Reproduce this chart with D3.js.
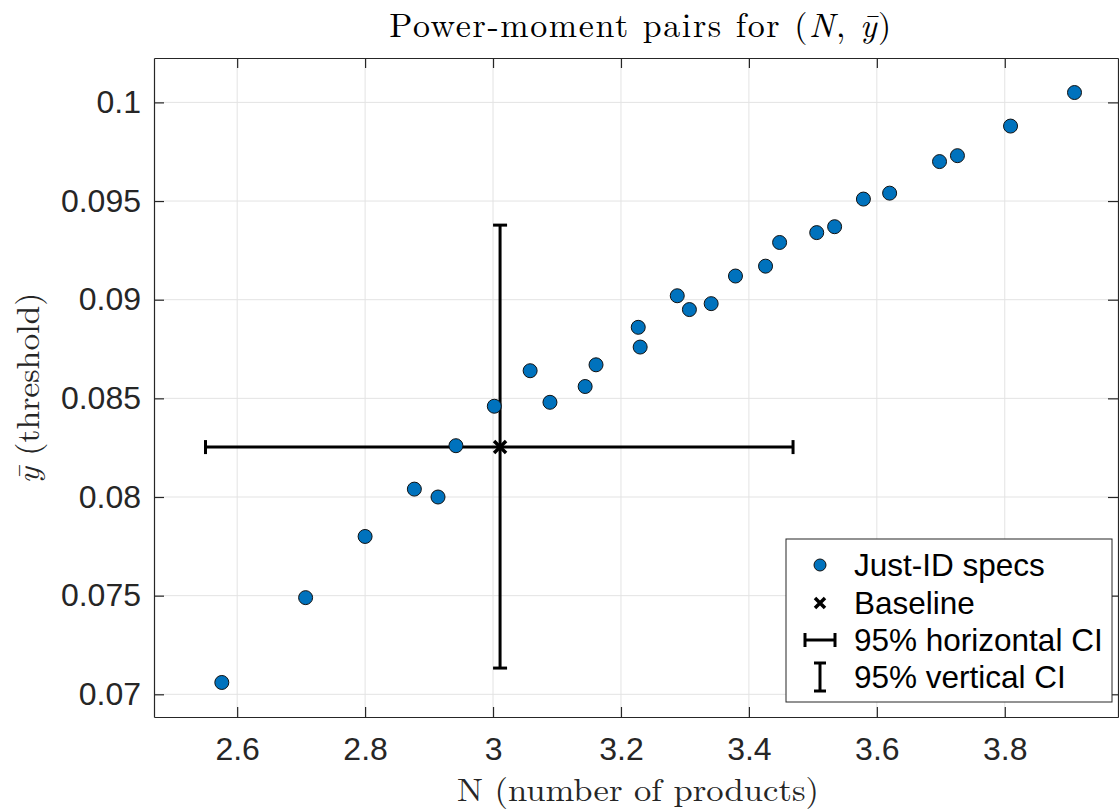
<!DOCTYPE html>
<html>
<head>
<meta charset="utf-8">
<script src="https://cdn.jsdelivr.net/npm/d3@7"></script>
<style>
  body { margin: 0; padding: 0; background: #fff; }
  svg { display: block; }
</style>
</head>
<body>
<div id="chart"></div>
<script>
// just-identified specs: N and ybar
var specN = [2.576, 2.707, 2.800, 2.877, 2.914, 2.942, 3.002, 3.058, 3.089, 3.144, 3.161,
             3.227, 3.230, 3.288, 3.307, 3.341, 3.379, 3.426, 3.448, 3.506, 3.534, 3.579,
             3.620, 3.698, 3.726, 3.809, 3.909];
var specY = [0.0706, 0.0749, 0.0780, 0.0804, 0.0800, 0.0826, 0.0846, 0.0864, 0.0848, 0.0856, 0.0867,
             0.0886, 0.0876, 0.0902, 0.0895, 0.0898, 0.0912, 0.0917, 0.0929, 0.0934, 0.0937, 0.0951,
             0.0954, 0.0970, 0.0973, 0.0988, 0.1005];
var baseline = [3.011, 0.08253];
var ciN = [2.5505, 3.469];
var ciY = [0.07133, 0.09378];
var xTicks = [2.6, 2.8, 3.0, 3.2, 3.4, 3.6, 3.8];
var yTicks = [0.07, 0.075, 0.08, 0.085, 0.09, 0.095, 0.1];
var legendLabels = ["Just-ID specs", "Baseline", "95% horizontal CI", "95% vertical CI"];

var W = 1119, H = 809;
var m = {left: 154, right: 1, top: 58, bottom: 92};
var pw = W - m.left - m.right, ph = H - m.top - m.bottom;

var svg = d3.select("#chart").append("svg").attr("width", W).attr("height", H);

var x = d3.scaleLinear().domain([2.470, 3.977]).range([0, pw]);
var y = d3.scaleLinear().domain([0.06885, 0.10225]).range([ph, 0]);

var g = svg.append("g").attr("transform", "translate(" + m.left + "," + m.top + ")");

// grid
g.selectAll(".gx").data(xTicks).enter().append("line")
  .attr("x1", d => x(d)).attr("x2", d => x(d)).attr("y1", 0).attr("y2", ph)
  .attr("stroke", "#e3e3e3").attr("stroke-width", 1);
g.selectAll(".gy").data(yTicks).enter().append("line")
  .attr("y1", d => y(d)).attr("y2", d => y(d)).attr("x1", 0).attr("x2", pw)
  .attr("stroke", "#e3e3e3").attr("stroke-width", 1);

// axes (inward ticks, box)
var fmtY = function(d) { return d3.format("")(+d.toFixed(3)); };
var fmtX = function(d) { return d === 3 ? "3" : d.toFixed(1); };
var axStyle = function(sel) {
  sel.select(".domain").attr("stroke", "#262626").attr("stroke-width", 1.2);
  sel.selectAll(".tick line").attr("stroke", "#262626").attr("stroke-width", 1.2);
  sel.selectAll("text").attr("fill", "#262626").style("font-family", "'Liberation Sans', Arial, sans-serif").style("font-size", "32px");
};
g.append("g").attr("transform", "translate(0," + ph + ")")
  .call(d3.axisBottom(x).tickValues(xTicks).tickFormat(fmtX).tickSizeInner(-10).tickSizeOuter(0).tickPadding(20))
  .call(axStyle);
g.append("g")
  .call(d3.axisLeft(y).tickValues(yTicks).tickFormat(fmtY).tickSizeInner(-10).tickSizeOuter(0).tickPadding(13))
  .call(axStyle);
g.append("g")
  .call(d3.axisTop(x).tickValues(xTicks).tickFormat("").tickSizeInner(-10).tickSizeOuter(0))
  .call(axStyle);
g.append("g").attr("transform", "translate(" + pw + ",0)")
  .call(d3.axisRight(y).tickValues(yTicks).tickFormat("").tickSizeInner(-10).tickSizeOuter(0))
  .call(axStyle);

// error bars
var cap = 7;
var eb = g.append("g").attr("stroke", "#000").attr("stroke-width", 3).attr("fill", "none");
eb.append("line").attr("x1", x(ciN[0])).attr("x2", x(ciN[1])).attr("y1", y(baseline[1])).attr("y2", y(baseline[1]));
eb.append("line").attr("x1", x(ciN[0])).attr("x2", x(ciN[0])).attr("y1", y(baseline[1]) - cap).attr("y2", y(baseline[1]) + cap);
eb.append("line").attr("x1", x(ciN[1])).attr("x2", x(ciN[1])).attr("y1", y(baseline[1]) - cap).attr("y2", y(baseline[1]) + cap);
eb.append("line").attr("x1", x(baseline[0])).attr("x2", x(baseline[0])).attr("y1", y(ciY[0])).attr("y2", y(ciY[1]));
eb.append("line").attr("x1", x(baseline[0]) - cap).attr("x2", x(baseline[0]) + cap).attr("y1", y(ciY[0])).attr("y2", y(ciY[0]));
eb.append("line").attr("x1", x(baseline[0]) - cap).attr("x2", x(baseline[0]) + cap).attr("y1", y(ciY[1])).attr("y2", y(ciY[1]));

// spec points
var pts = specN.map((n, i) => [n, specY[i]]);
g.selectAll(".pt").data(pts).enter().append("circle")
  .attr("cx", d => x(d[0])).attr("cy", d => y(d[1])).attr("r", 7)
  .attr("fill", "#0072BD").attr("stroke", "#111").attr("stroke-width", 1);

// baseline x marker
function cross(sel, cx, cy, s) {
  sel.append("path").attr("d", "M" + (cx - s) + "," + (cy - s) + "L" + (cx + s) + "," + (cy + s) +
    "M" + (cx - s) + "," + (cy + s) + "L" + (cx + s) + "," + (cy - s))
    .attr("stroke", "#000").attr("stroke-width", 3.5).attr("fill", "none");
}
cross(g, x(baseline[0]), y(baseline[1]), 6);

// legend
var lg = svg.append("g").attr("transform", "translate(786,539)");
lg.append("rect").attr("width", 326).attr("height", 163).attr("fill", "#fff").attr("stroke", "#262626").attr("stroke-width", 1);
var rowY = [26, 64, 101, 138];
lg.selectAll("text").data(legendLabels).enter().append("text")
  .attr("x", 68).attr("y", (d, i) => rowY[i]).attr("dy", "0.35em")
  .style("font-family", "'Liberation Sans', Arial, sans-serif").style("font-size", "31.5px").attr("fill", "#000")
  .text(d => d);
var lx = 34;
lg.append("circle").attr("cx", lx).attr("cy", rowY[0]).attr("r", 6).attr("fill", "#0072BD").attr("stroke", "#111").attr("stroke-width", 1);
cross(lg, lx, rowY[1], 5);
var lgl = lg.append("g").attr("stroke", "#000").attr("stroke-width", 3);
lgl.append("line").attr("x1", lx - 15).attr("x2", lx + 15).attr("y1", rowY[2]).attr("y2", rowY[2]);
lgl.append("line").attr("x1", lx - 15).attr("x2", lx - 15).attr("y1", rowY[2] - 7).attr("y2", rowY[2] + 7);
lgl.append("line").attr("x1", lx + 15).attr("x2", lx + 15).attr("y1", rowY[2] - 7).attr("y2", rowY[2] + 7);
lgl.append("line").attr("x1", lx).attr("x2", lx).attr("y1", rowY[3] - 14).attr("y2", rowY[3] + 14);
lgl.append("line").attr("x1", lx - 6).attr("x2", lx + 6).attr("y1", rowY[3] - 14).attr("y2", rowY[3] - 14);
lgl.append("line").attr("x1", lx - 6).attr("x2", lx + 6).attr("y1", rowY[3] + 14).attr("y2", rowY[3] + 14);

// title and axis labels (serif, LaTeX-like)
var serif = "'Latin Modern Roman', 'CMU Serif', 'Liberation Serif', 'DejaVu Serif', serif";
var title = svg.append("text").attr("x", 641).attr("y", 37).attr("text-anchor", "middle")
  .style("font-family", serif).style("font-size", "34px").style("letter-spacing", "1.6px").attr("fill", "#000");
title.append("tspan").text("Power-moment pairs for (");
title.append("tspan").style("font-style", "italic").text("N");
title.append("tspan").text(", ");
title.append("tspan").style("font-style", "italic").text("\u0233");
title.append("tspan").text(")");

svg.append("text").attr("x", 638).attr("y", 801).attr("text-anchor", "middle")
  .attr("textLength", 362).attr("lengthAdjust", "spacingAndGlyphs")
  .style("font-family", serif).style("font-size", "32px").attr("fill", "#262626")
  .text("N (number of products)");

var yl = svg.append("text").attr("transform", "translate(39,388) rotate(-90)")
  .attr("text-anchor", "middle").attr("textLength", 191).attr("lengthAdjust", "spacingAndGlyphs")
  .style("font-family", serif).style("font-size", "32px").attr("fill", "#262626");
yl.append("tspan").style("font-style", "italic").text("\u0233");
yl.append("tspan").text(" (threshold)");
</script>
</body>
</html>
